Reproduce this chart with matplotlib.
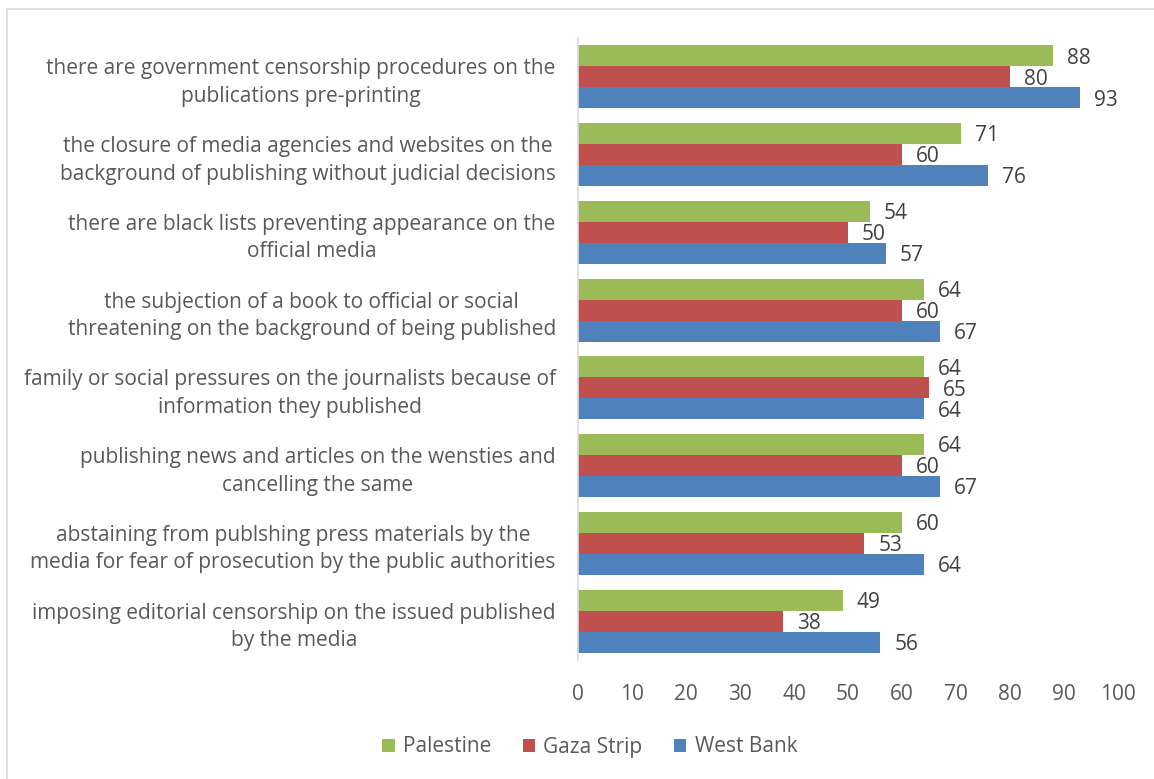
import matplotlib
matplotlib.use('Agg')
import matplotlib.pyplot as plt
from matplotlib.lines import Line2D
import numpy as np

# survey items, top to bottom
categories = [
    "there are government censorship procedures on the\npublications pre-printing",
    "the closure of media agencies and websites on the\nbackground of publishing without judicial decisions",
    "there are black lists preventing appearance on the\nofficial media",
    "the subjection of a book to official or social\nthreatening on the background of being published",
    "family or social pressures on the journalists because of\ninformation they published",
    "publishing news and articles on the wensties and\ncancelling the same",
    "abstaining from publshing press materials by the\nmedia for fear of prosecution by the public authorities",
    "imposing editorial censorship on the issued published\nby the media",
]
palestine = [88, 71, 54, 64, 64, 64, 60, 49]
gaza = [80, 60, 50, 60, 65, 60, 53, 38]
west_bank = [93, 76, 57, 67, 64, 67, 64, 56]
series = [("Palestine", palestine, "#9BBB59"),
          ("Gaza Strip", gaza, "#C0504D"),
          ("West Bank", west_bank, "#4F81BD")]
xticks = list(range(0, 101, 10))

plt.rcParams['font.family'] = ['Open Sans', 'DejaVu Sans']
text_color = "#595959"
fs = 15

fig = plt.figure(figsize=(11.54, 7.79), dpi=100)
ax = fig.add_axes([578 / 1154, 1 - 660 / 779, 540 / 1154, 622 / 779])

n = len(categories)
y = np.arange(n)[::-1]
h = 0.27
for i, (name, vals, color) in enumerate(series):
    pos = y + h * (1 - i)
    ax.barh(pos, vals, height=h, color=color, label=name)
    for p, v in zip(pos, vals):
        ax.text(v + 2.6, p - 0.03, str(v), va='center', ha='left',
                fontsize=fs, color="#404040")

ax.set_xlim(0, 100)
ax.set_ylim(-0.5, n - 0.5)
ax.set_xticks(xticks)
ax.set_xticklabels([str(t) for t in xticks], fontsize=fs, color=text_color)
ax.set_yticks(y)
ax.set_yticklabels(categories, fontsize=fs, color=text_color,
                   multialignment='center', linespacing=1.4)
ax.tick_params(axis='both', length=0)
ax.tick_params(axis='y', pad=16)
ax.tick_params(axis='x', pad=17)
for side in ['top', 'right', 'bottom']:
    ax.spines[side].set_visible(False)
ax.spines['left'].set_color("#D9D9D9")
ax.spines['left'].set_linewidth(1.2)

handles, labels = ax.get_legend_handles_labels()
fig.legend(handles, labels, loc='center', bbox_to_anchor=(0.511, 1 - 747 / 779),
           ncol=3, frameon=False, fontsize=fs, labelcolor=text_color,
           handlelength=0.6, handleheight=0.6, columnspacing=1.5, handletextpad=0.4)

# chart-area border (left and top edges)
fig.add_artist(Line2D([7 / 1154, 7 / 1154], [0, 1 - 9 / 779], transform=fig.transFigure,
                      color="#D9D9D9", linewidth=1.2))
fig.add_artist(Line2D([7 / 1154, 1], [1 - 9 / 779, 1 - 9 / 779], transform=fig.transFigure,
                      color="#D9D9D9", linewidth=1.2))

fig.savefig("out.png", dpi=100)
